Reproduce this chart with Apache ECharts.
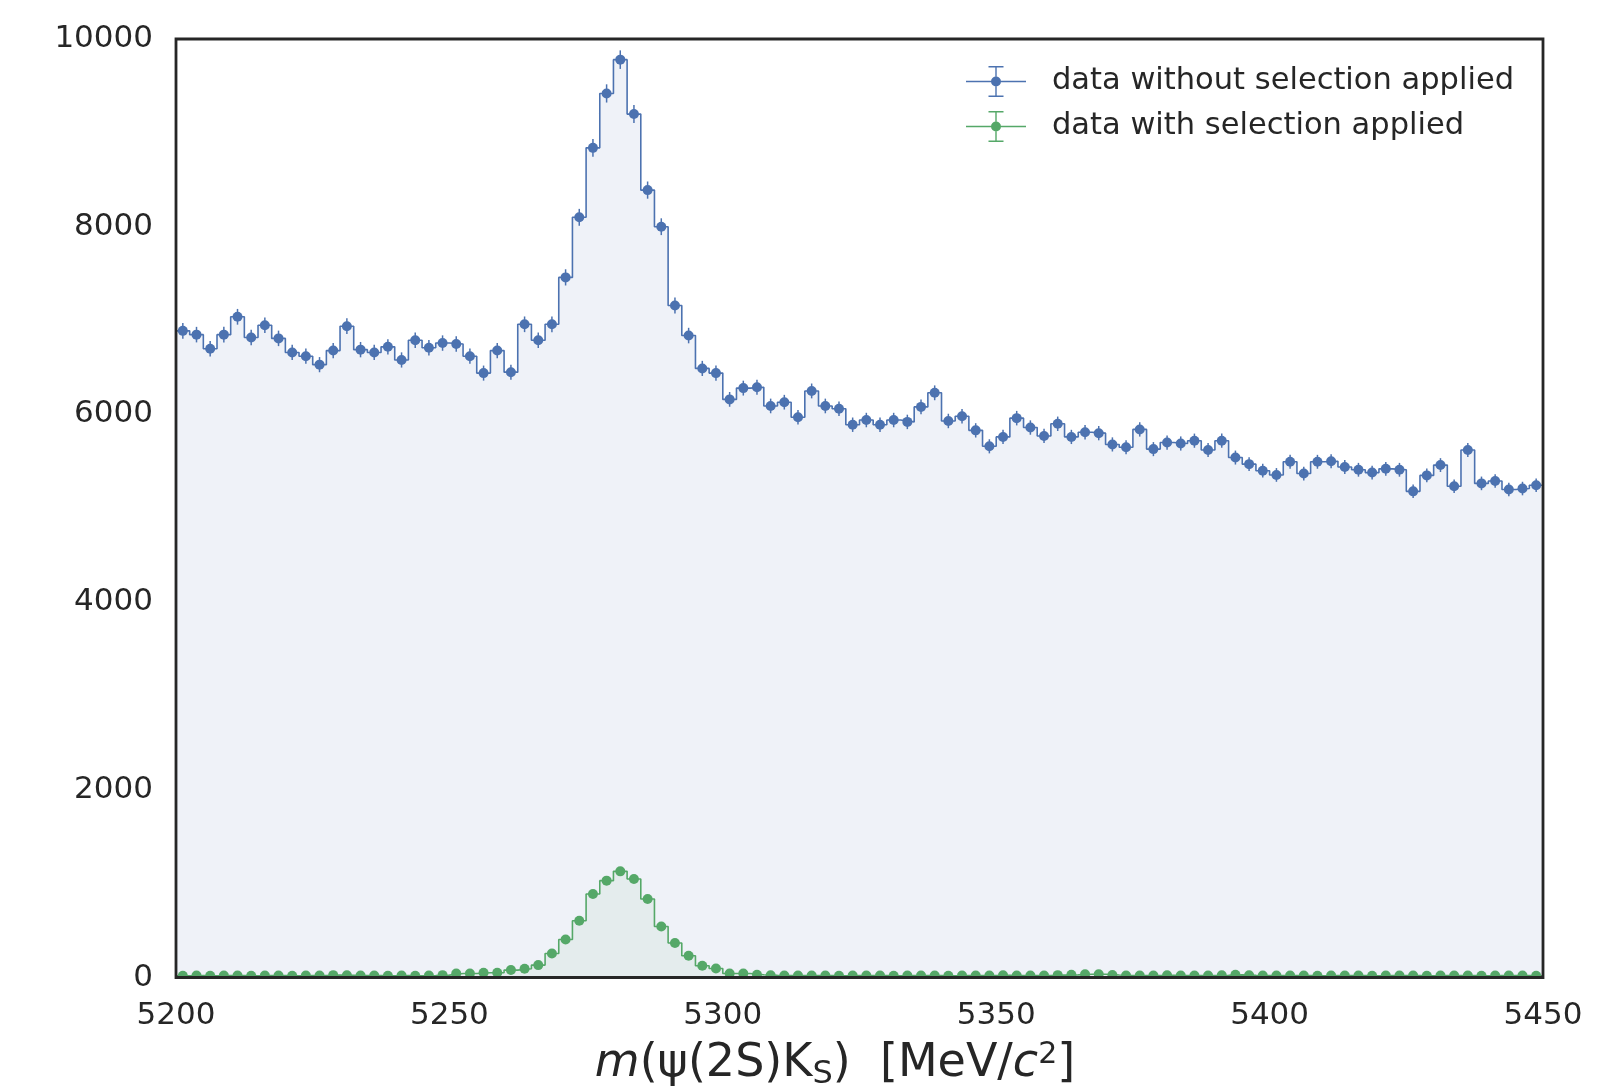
<!DOCTYPE html>
<html>
<head>
<meta charset="utf-8">
<script src="https://cdn.jsdelivr.net/npm/echarts@6/dist/echarts.min.js"></script>
<style>
  html, body { margin: 0; padding: 0; background: #ffffff; }
  #chart { width: 1624px; height: 1086px; }
</style>
</head>
<body>
<div id="chart"></div>
<script>
// Histogram binning: 100 bins of 2.5 MeV/c^2 from 5200 to 5450
const binLow = 5200;
const binWidth = 2.5;
const xTicks = [5200, 5250, 5300, 5350, 5400, 5450];
const yTicks = [0, 2000, 4000, 6000, 8000, 10000];

// Candidates per bin before the selection
const countsAll = [
  6890, 6850, 6700, 6850, 7040, 6820, 6950, 6810, 6660, 6620,
  6530, 6680, 6940, 6690, 6660, 6720, 6580, 6790, 6710, 6760,
  6750, 6620, 6440, 6680, 6450, 6960, 6790, 6960, 7460, 8100,
  8840, 9420, 9780, 9200, 8390, 8000, 7160, 6840, 6490, 6440,
  6160, 6280, 6290, 6090, 6130, 5970, 6250, 6090, 6060, 5890,
  5940, 5890, 5940, 5920, 6080, 6230, 5930, 5980, 5830, 5660,
  5760, 5960, 5860, 5770, 5900, 5760, 5810, 5800, 5680, 5650,
  5840, 5630, 5700, 5690, 5720, 5620, 5720, 5540, 5470, 5400,
  5355, 5495, 5370, 5495, 5500, 5440, 5410, 5380, 5420, 5410,
  5180, 5350, 5460, 5235, 5620, 5265, 5290, 5200, 5210, 5245
];

// Candidates per bin after the selection
const countsSel = [
  18, 20, 18, 22, 20, 18, 20, 22, 18, 20,
  22, 25, 24, 22, 20, 18, 20, 18, 20, 25,
  43, 43, 50, 50, 79, 93, 132, 256, 405, 605,
  890, 1032, 1131, 1050, 836, 544, 367, 232, 125, 96,
  43, 43, 30, 24, 22, 20, 22, 20, 18, 20,
  22, 20, 18, 20, 22, 20, 18, 22, 20, 22,
  24, 22, 20, 22, 25, 28, 35, 34, 26, 22,
  20, 22, 24, 22, 20, 22, 24, 28, 24, 22,
  20, 22, 20, 18, 20, 22, 20, 18, 20, 22,
  20, 18, 20, 22, 20, 18, 20, 22, 20, 18
];

const seriesNames = ['data without selection applied', 'data with selection applied'];
const BLUE = '#4c72b0';
const GREEN = '#55a868';
const INK = '#262626';
const FONT = 'DejaVu Sans';

// plot frame in pixels
const G = { left: 176, right: 81, top: 39, bottom: 108.5 };
const W = 1624, H = 1086;
const plotBottom = H - G.bottom;

const centers = countsAll.map((_, i) => binLow + (i + 0.5) * binWidth);

// histogram outline: one point at each bin's left edge plus the closing edge
function stepData(counts) {
  const pts = counts.map((c, i) => [binLow + i * binWidth, c]);
  pts.push([binLow + counts.length * binWidth, counts[counts.length - 1]]);
  return pts;
}
function pointData(counts) {
  return counts.map((c, i) => [centers[i], c]);
}
// Poisson uncertainty on each bin
function errData(counts) {
  return counts.map((c, i) => [centers[i], c - Math.sqrt(c), c + Math.sqrt(c)]);
}

function errRender(color) {
  return function (params, api) {
    const x = api.value(0);
    const p1 = api.coord([x, api.value(1)]);
    const p2 = api.coord([x, api.value(2)]);
    return {
      type: 'line',
      shape: { x1: p1[0], y1: p1[1], x2: p2[0], y2: p2[1] },
      style: { stroke: color, lineWidth: 1.5 }
    };
  };
}

// line + marker + capped error bar, 60 x 31
const legendIcon = 'path://M0,14.8H60V16.2H0Z M29.3,0H30.7V31H29.3Z M22.5,0H37.5V1.4H22.5Z M22.5,29.6H37.5V31H22.5Z M25,15.5A5,5,0,1,1,35,15.5A5,5,0,1,1,25,15.5Z';

const chart = echarts.init(document.getElementById('chart'), null, { renderer: 'canvas' });

const option = {
  animation: false,
  backgroundColor: '#ffffff',
  grid: { left: G.left, right: G.right, top: G.top, bottom: G.bottom, show: false },
  xAxis: {
    type: 'value',
    min: xTicks[0], max: xTicks[xTicks.length - 1], interval: 50,
    axisLine: { show: false }, axisTick: { show: false }, splitLine: { show: false },
    axisLabel: { color: INK, fontSize: 31, fontFamily: FONT, margin: 23,
                 formatter: v => String(v) }
  },
  yAxis: {
    type: 'value',
    min: yTicks[0], max: yTicks[yTicks.length - 1], interval: 2000,
    axisLine: { show: false }, axisTick: { show: false }, splitLine: { show: false },
    axisLabel: { color: INK, fontSize: 31, fontFamily: FONT, margin: 23,
                 formatter: v => String(v) }
  },
  legend: {
    orient: 'vertical',
    left: 966, top: 66, padding: 0,
    itemWidth: 60, itemHeight: 31, itemGap: 14,
    icon: legendIcon,
    data: seriesNames,
    textStyle: { color: INK, fontSize: 30.5, fontFamily: FONT, padding: [0, 0, 0, 21] }
  },
  series: [
    {
      type: 'line', step: 'end', data: stepData(countsAll),
      showSymbol: false, symbol: 'none', silent: true,
      lineStyle: { color: BLUE, width: 1.6 },
      areaStyle: { color: 'rgba(76,114,176,0.13)' },
      z: 2
    },
    {
      type: 'custom', data: errData(countsAll), renderItem: errRender(BLUE), silent: true, z: 3
    },
    {
      name: seriesNames[0], type: 'scatter', data: pointData(countsAll),
      symbol: 'circle', symbolSize: 10, itemStyle: { color: BLUE, opacity: 1 }, z: 4
    },
    {
      type: 'line', step: 'end', data: stepData(countsSel),
      showSymbol: false, symbol: 'none', silent: true,
      lineStyle: { color: GREEN, width: 1.6 },
      areaStyle: { color: 'rgba(85,168,104,0.10)' },
      z: 5
    },
    {
      type: 'custom', data: errData(countsSel), renderItem: errRender(GREEN), silent: true, z: 6
    },
    {
      name: seriesNames[1], type: 'scatter', data: pointData(countsSel),
      symbol: 'circle', symbolSize: 10, itemStyle: { color: GREEN, opacity: 1 }, z: 7
    }
  ],
  graphic: [
    // keep markers inside the axes box
    { type: 'rect', z: 20, silent: true,
      shape: { x: G.left - 10, y: plotBottom, width: W - G.left - G.right + 20, height: 14 },
      style: { fill: '#ffffff' } },
    // axes frame
    { type: 'rect', z: 21, silent: true,
      shape: { x: G.left, y: G.top, width: W - G.left - G.right, height: plotBottom - G.top },
      style: { fill: null, stroke: INK, lineWidth: 2.8 } },
    // x-axis title
    { type: 'text', z: 21, silent: true,
      x: 835, y: 1064,
      style: {
        text: '{i|m}(ψ(2S)K{sub|S})  [MeV/{i|c}{sup|2}]',
        fill: INK, fontSize: 46, fontFamily: FONT,
        align: 'center', verticalAlign: 'middle',
        rich: {
          i: { fontStyle: 'italic', fontSize: 46, fontFamily: FONT, fill: INK },
          sub: { fontSize: 32, fontFamily: FONT, fill: INK, padding: [22, 0, 0, 0] },
          sup: { fontSize: 30, fontFamily: FONT, fill: INK, padding: [0, 0, 18, 0] }
        }
      } }
  ]
};

chart.setOption(option);
</script>
</body>
</html>
